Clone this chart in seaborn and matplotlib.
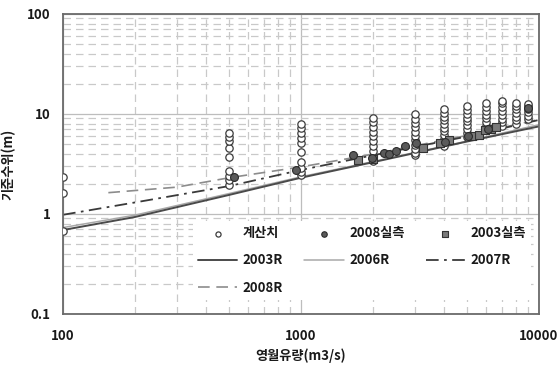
import numpy as np
import pandas as pd
import matplotlib
matplotlib.use("Agg")
import matplotlib.pyplot as plt
import seaborn as sns
from matplotlib.ticker import FixedLocator, NullFormatter

# ---------------- data ----------------
calc_q = ([100] * 3 + [500] * 9 + [1000] * 10 + [2000] * 10 + [3000] * 11 + [4000] * 11
          + [5000] * 9 + [6000] * 8 + [7000] * 8 + [8000] * 7 + [9000] * 6)
calc_h = [0.68, 1.6, 2.35,
          1.96, 2.18, 2.39, 2.70, 3.72, 4.61, 5.36, 5.88, 6.5,
          2.45, 2.6, 2.9, 3.3, 4.2, 5.1, 5.7, 6.4, 7.2, 8.0,
          3.4, 3.72, 4.27, 4.78, 5.36, 5.97, 6.65, 7.4, 8.2, 9.2,
          3.9, 4.05, 4.46, 4.93, 5.45, 6.01, 6.64, 7.34, 8.11, 8.96, 9.9,
          4.8, 5.2, 5.65, 6.15, 6.7, 7.3, 7.95, 8.65, 9.4, 10.25, 11.1,
          5.9, 6.5, 7.1, 7.7, 8.4, 9.2, 10.0, 10.9, 11.9,
          7.0, 7.6, 8.3, 9.0, 9.8, 10.7, 11.7, 12.9,
          7.5, 8.2, 8.9, 9.7, 10.6, 11.6, 12.7, 13.3,
          7.9, 8.6, 9.4, 10.2, 11.1, 12.1, 12.9,
          8.9, 9.6, 10.4, 11.2, 12.0, 12.6]

obs08_q = [525, 955, 1660, 1980, 2240, 2350, 2500, 2740, 3050, 4020, 5050, 6120, 8950]
obs08_h = [2.32, 2.74, 3.86, 3.58, 4.1, 4.0, 4.24, 4.74, 5.1, 5.25, 6.0, 7.1, 11.4]

obs03_q = [1740, 2000, 3260, 3840, 4200, 5250, 5600, 5930, 6300, 6600]
obs03_h = [3.45, 3.5, 4.6, 5.17, 5.45, 6.05, 6.2, 6.96, 7.1, 7.4]

r2003_q = [100, 200, 500, 1000, 2000, 5000, 10000]
r2003_h = [0.69, 0.93, 1.55, 2.3, 3.28, 5.3, 7.5]
r2006_q = [100, 200, 500, 1000, 2000, 5000, 10000]
r2006_h = [0.73, 0.97, 1.6, 2.35, 3.33, 5.35, 7.8]
r2007_q = [100, 200, 500, 1000, 2000, 5000, 10000]
r2007_h = [0.98, 1.3, 1.9, 2.75, 3.85, 5.95, 8.7]
r2008_q = [155, 300, 500, 1000, 2000, 5000, 10000]
r2008_h = [1.63, 1.85, 2.3, 2.95, 3.95, 6.1, 8.8]

x_ticks = [100, 1000, 10000]
x_ticklabels = ["100", "1000", "10000"]
y_ticks = [0.1, 1, 10, 100]
y_ticklabels = ["0.1", "1", "10", "100"]

# ---------------- style ----------------
sns.set_theme(style="white")
plt.rcParams['font.family'] = ['Noto Sans CJK KR', 'DejaVu Sans']
plt.rcParams['font.weight'] = 'bold'

fig = plt.figure(figsize=(5.58, 3.65), dpi=100)
ax = fig.add_axes([0.113, 0.140, 0.853, 0.822])
ax.set_xscale('log')
ax.set_yscale('log')
ax.set_xlim(100, 10000)
ax.set_ylim(0.1, 100)

# grid
ax.xaxis.set_minor_locator(FixedLocator([m * d for d in (100, 1000) for m in range(2, 10)]))
ax.yaxis.set_minor_locator(FixedLocator([m * d for d in (0.1, 1, 10) for m in range(2, 10)]))
ax.xaxis.set_minor_formatter(NullFormatter())
ax.yaxis.set_minor_formatter(NullFormatter())
ax.grid(which='major', color='#bdbdbd', lw=0.9, ls='-')
ax.grid(which='minor', color='#c9c9c9', lw=0.9, ls=(0, (6, 4)))
ax.set_axisbelow(True)

df_r03 = pd.DataFrame({'Q': r2003_q, 'H': r2003_h})
df_r06 = pd.DataFrame({'Q': r2006_q, 'H': r2006_h})
df_r07 = pd.DataFrame({'Q': r2007_q, 'H': r2007_h})
df_r08 = pd.DataFrame({'Q': r2008_q, 'H': r2008_h})

sns.lineplot(data=df_r06, x='Q', y='H', ax=ax, color='#a8a8a8', lw=1.1, label='2006R', zorder=2)
sns.lineplot(data=df_r03, x='Q', y='H', ax=ax, color='#4a4a4a', lw=1.4, label='2003R', zorder=2)
sns.lineplot(data=df_r08, x='Q', y='H', ax=ax, color='#8c8c8c', lw=1.2, ls=(0, (7, 4)), label='2008R', zorder=2)
sns.lineplot(data=df_r07, x='Q', y='H', ax=ax, color='#3a3a3a', lw=1.3, ls=(0, (7, 3, 1.5, 3)), label='2007R', zorder=2)

df_calc = pd.DataFrame({'Q': calc_q, 'H': calc_h})
df_08 = pd.DataFrame({'Q': obs08_q, 'H': obs08_h})
df_03 = pd.DataFrame({'Q': obs03_q, 'H': obs03_h})

sns.scatterplot(data=df_calc, x='Q', y='H', ax=ax, marker='o', s=28, facecolor='white',
                edgecolor='#3c3c3c', linewidth=0.9, label='계산치', zorder=3)
sns.scatterplot(data=df_03, x='Q', y='H', ax=ax, marker='s', s=30, color='#7a7a7a',
                edgecolor='#333333', linewidth=0.8, label='2003실측', zorder=4)
sns.scatterplot(data=df_08, x='Q', y='H', ax=ax, marker='o', s=32, color='#5a5a5a',
                edgecolor='#2a2a2a', linewidth=0.8, label='2008실측', zorder=4)

ax.set_xticks(x_ticks)
ax.set_xticklabels(x_ticklabels)
ax.set_yticks(y_ticks)
ax.set_yticklabels(y_ticklabels)
ax.tick_params(axis='both', which='both', length=0, labelsize=9.5, colors='#1a1a1a')
ax.tick_params(axis='x', pad=11)
ax.tick_params(axis='y', pad=9)

ax.set_xlabel('영월유량(m3/s)', fontsize=9.5, fontweight='bold', labelpad=4, color='#1a1a1a')
ax.set_ylabel('기준수위(m)', fontsize=9.5, fontweight='bold', labelpad=8, color='#1a1a1a')

for sp in ax.spines.values():
    sp.set_color('#6a6a6a')
    sp.set_linewidth(1.3)
    sp.set_visible(True)

handles, labels = ax.get_legend_handles_labels()
hmap = dict(zip(labels, handles))
order = ['계산치', '2003R', '2008R', '2008실측', '2006R', '2003실측', '2007R']
leg = ax.legend([hmap[k] for k in order], order, ncol=3, loc='upper left',
                bbox_to_anchor=(0.272, 0.31), fontsize=9.5, frameon=True,
                facecolor='white', edgecolor='white', framealpha=1.0,
                handlelength=3.0, handletextpad=0.4, columnspacing=1.6,
                labelspacing=1.0, borderpad=0.4, borderaxespad=0, markerscale=0.7)
leg.get_frame().set_linewidth(0)
for t in leg.get_texts():
    t.set_color('#1a1a1a')

fig.savefig('out.png', dpi=100)
